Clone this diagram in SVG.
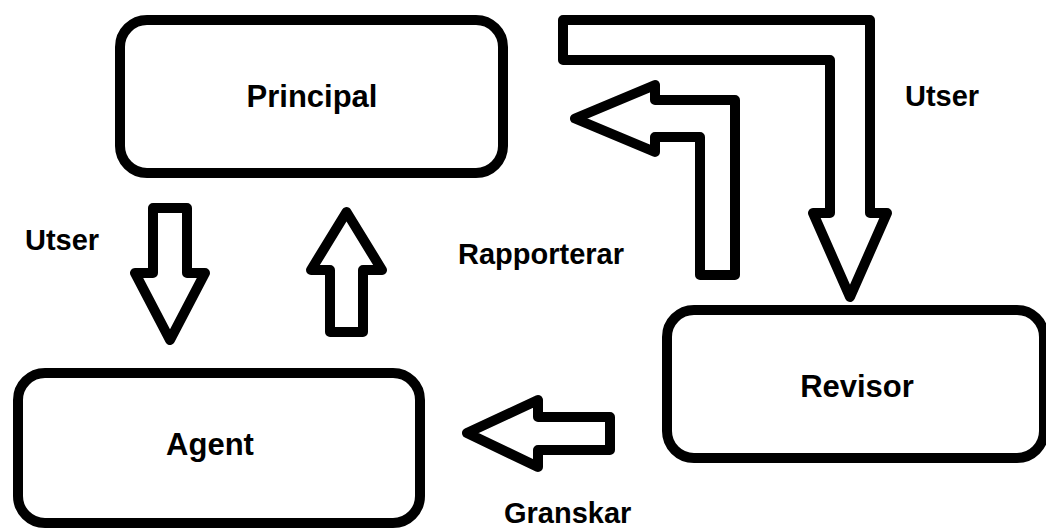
<svg xmlns="http://www.w3.org/2000/svg" width="1046" height="531" viewBox="0 0 1046 531">
  <style>
    .box { fill: #ffffff; stroke: #000000; stroke-width: 10; }
    .arrow { fill: #ffffff; stroke: #000000; stroke-width: 10; stroke-linejoin: round; }
    .node-label { font-family: "Liberation Sans", Arial, sans-serif; font-weight: bold; font-size: 31px; fill: #000000; text-anchor: middle; }
    .edge-label { font-family: "Liberation Sans", Arial, sans-serif; font-weight: bold; font-size: 29px; fill: #000000; }
  </style>
  <rect width="1046" height="531" fill="#ffffff"/>
  <g id="connectors">
    <g id="utser-principal-revisor">
      <polygon class="arrow" points="563,20 870,20 870,213 887,213 850,297 813,213 830,213 830,60 563,60"/>
      <text class="edge-label" x="905" y="106">Utser</text>
    </g>
    <g id="rapporterar-revisor-principal">
      <polygon class="arrow" points="575,118.5 655,85 655,100 735,100 735,275 700,275 700,137 655,137 655,152"/>
      <text class="edge-label" x="458" y="264">Rapporterar</text>
    </g>
    <g id="utser-principal-agent">
      <polygon class="arrow" points="153,208 187,208 187,273 205,273 170,340 135,273 153,273"/>
      <text class="edge-label" x="25" y="250">Utser</text>
    </g>
    <g id="rapporterar-agent-principal">
      <polygon class="arrow" points="346.5,212 382,270 363,270 363,332 330,332 330,270 311,270"/>
    </g>
    <g id="granskar-revisor-agent">
      <polygon class="arrow" points="467,433 538,400 538,417 610,417 610,450 538,450 538,467"/>
      <text class="edge-label" x="504" y="523">Granskar</text>
    </g>
  </g>
  <g id="principal">
    <rect class="box" x="120" y="20" width="383" height="153" rx="27" ry="27"/>
    <text class="node-label" x="312" y="107">Principal</text>
  </g>
  <g id="agent">
    <rect class="box" x="18" y="373" width="402" height="150" rx="27" ry="27"/>
    <text class="node-label" x="210" y="455">Agent</text>
  </g>
  <g id="revisor">
    <rect class="box" x="667" y="310" width="377" height="148" rx="27" ry="27"/>
    <text class="node-label" x="857" y="397">Revisor</text>
  </g>
</svg>
